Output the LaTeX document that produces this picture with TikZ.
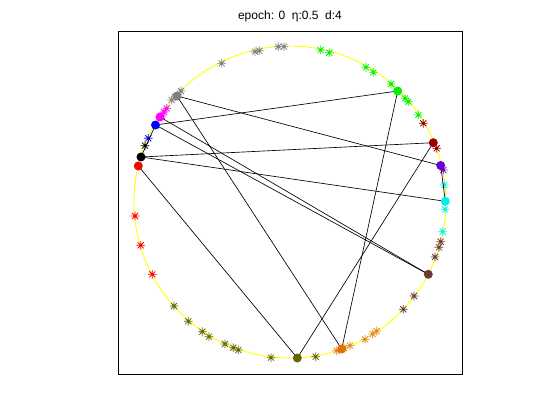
\documentclass[tikz,border=0pt]{standalone}
\usepackage{fontspec}
\setmainfont{Liberation Sans}
\definecolor{cgray}{RGB}{128,128,128}
\definecolor{cmag}{RGB}{255,0,255}
\definecolor{cblue}{RGB}{0,0,255}
\definecolor{cred}{RGB}{255,0,0}
\definecolor{colive}{RGB}{102,102,0}
\definecolor{corange}{RGB}{225,115,0}
\definecolor{corst}{RGB}{225,135,30}
\definecolor{cbrown}{RGB}{105,60,55}
\definecolor{ccyan}{RGB}{0,240,240}
\definecolor{cpurple}{RGB}{105,0,210}
\definecolor{cdred}{RGB}{150,0,0}
\definecolor{cgreen}{RGB}{0,240,0}
\definecolor{cyel}{RGB}{255,255,0}
\tikzset{
  astk/.pic={\draw[pic actions, line width=0.75pt] (-4.3,0)--(4.3,0) (0,-4.3)--(0,4.3) (-3,-3)--(3,3) (-3,3)--(3,-3);},
  dot/.style={circle, inner sep=0pt, minimum size=9pt, draw=none},
  edge/.style={black, line width=0.65pt},
  frame/.style={black, line width=0.8pt},
  ring/.style={cyel, line width=0.9pt}
}
\begin{document}
\begin{tikzpicture}[x=1pt,y=-1pt]
\fill[white] (0,0) rectangle (560,420);
\useasboundingbox (0,0) rectangle (560,420);
\draw[frame] (118,31) rectangle (462,374);
\node[font=\fontsize{12}{14}\selectfont] (title) at (290,16.5) {epoch: 0\ \ η:0.5\ \ d:4};
\draw[ring] (290,202) circle[radius=156];
% stars
\foreach \p in {(221.7,63.3),(255,51.7),(259.3,50.7),(278.3,46.7),(284,46.7),(181,91),(171.7,100),(175,97)} \pic[cgray] at \p {astk};
\foreach \p in {(166.7,108.3),(161.7,116),(164,112)} \pic[cmag] at \p {astk};
\foreach \p in {(148.3,138.3)} \pic[cblue] at \p {astk};
\foreach \p in {(145,145.7)} \pic[black] at \p {astk};
\foreach \p in {(135,216),(140.7,245.3),(152.3,274.3)} \pic[cred] at \p {astk};
\foreach \p in {(174,306),(188.3,321.3),(202.3,331.7),(209,336.7),(225,344),(233.3,347.7),(238.3,350),(271,357.7),(315.7,356.7)} \pic[colive] at \p {astk};
\foreach \p in {(336.7,350.7),(350,345.7),(365,339.3),(372.7,334),(376.7,331),(344,348)} \pic[corst] at \p {astk};
\foreach \p in {(403.3,309.3),(414,296),(435,257),(439,247.3),(440.7,241.7)} \pic[cbrown] at \p {astk};
\foreach \p in {(442.7,231.7),(445,209.3),(444.3,185)} \pic[ccyan] at \p {astk};
\foreach \p in {(443.3,170)} \pic[cpurple] at \p {astk};
\foreach \p in {(436.7,148.3),(423.3,123.3)} \pic[cdred] at \p {astk};
\foreach \p in {(320.7,50),(329.3,52.7),(366,67.3),(373.3,72.3),(391,84),(405,98.3),(408.3,101.7),(418.3,115)} \pic[cgreen] at \p {astk};
% node positions
\coordinate (gray) at (177,96);
\coordinate (mag) at (160,117);
\coordinate (blue) at (155.5,125);
\coordinate (blk) at (141,157);
\coordinate (red) at (138.3,166);
\coordinate (olive) at (297.3,358);
\coordinate (orange) at (341.7,349);
\coordinate (brown) at (428.3,274.3);
\coordinate (cyan) at (445.3,201.3);
\coordinate (purple) at (440.7,165.5);
\coordinate (dred) at (433.3,142.7);
\coordinate (green) at (397.7,91);
% edges
\draw[edge] (gray) -- (purple);
\draw[edge] (gray) -- (orange);
\draw[edge] (blue) -- (green);
\draw[edge] (blue) -- (brown);
\draw[edge] (mag) -- (brown);
\draw[edge] (blk) -- (dred);
\draw[edge] (blk) -- (cyan);
\draw[edge] (blk) -- (blue);
\draw[edge] (red) -- (olive);
\draw[edge] (green) -- (orange);
\draw[edge] (dred) -- (olive);
\draw[edge] (purple) -- (cyan);
% nodes
\node[dot, fill=cgray] (ngray) at (gray) {};
\node[dot, fill=cmag] (nmag) at (mag) {};
\node[dot, fill=cblue] (nblue) at (blue) {};
\node[dot, fill=black] (nblk) at (blk) {};
\node[dot, fill=cred] (nred) at (red) {};
\node[dot, fill=colive] (nolive) at (olive) {};
\node[dot, fill=corange] (norange) at (orange) {};
\node[dot, fill=cbrown] (nbrown) at (brown) {};
\node[dot, fill=ccyan] (ncyan) at (cyan) {};
\node[dot, fill=cpurple] (npurple) at (purple) {};
\node[dot, fill=cdred] (ndred) at (dred) {};
\node[dot, fill=cgreen] (ngreen) at (green) {};
\end{tikzpicture}
\end{document}
